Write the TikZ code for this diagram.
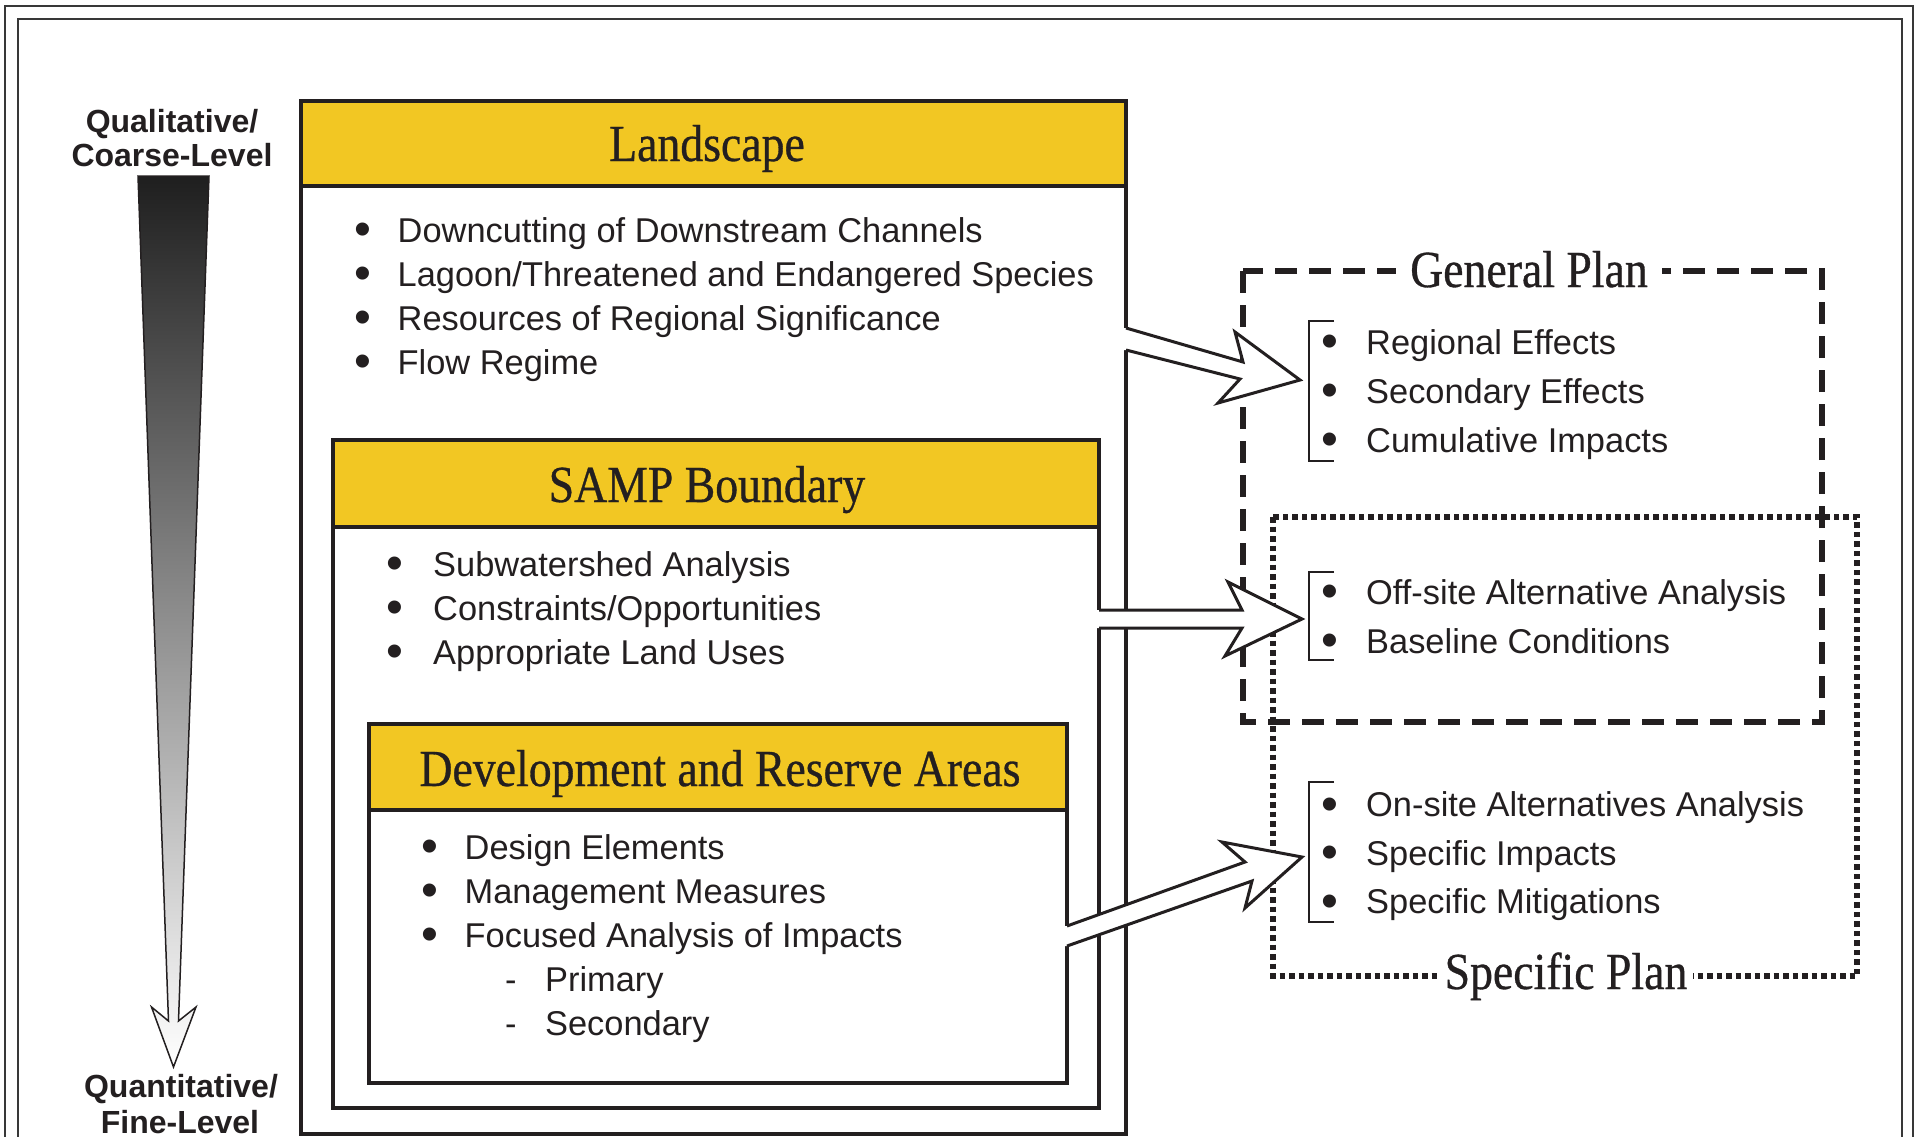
\documentclass[tikz,border=0pt]{standalone}
\usepackage{fontspec}
\usepackage{graphicx}
\setmainfont{Liberation Sans}
\newfontfamily\headfont[FakeStretch=0.88,FakeBold=0.6]{Liberation Serif}
\usetikzlibrary{calc}
\definecolor{gold}{RGB}{242,199,35}
\definecolor{ink}{RGB}{35,31,32}
\newcommand{\bul}{\raisebox{-0.11em}{\scalebox{1.4}{•}}}
\begin{document}
\begin{tikzpicture}[x=1pt,y=-1pt,
  frameline/.style={draw=black!78, line width=2.5pt},
  boxline/.style={draw=ink, line width=3.5pt},
  headtxt/.style={font=\headfont\fontsize{52}{52}\selectfont, text=ink, inner sep=0pt, anchor=base},
  item/.style={font=\fontsize{34.4}{40}\selectfont, text=ink, inner sep=0pt, anchor=base west},
  sidetxt/.style={font=\bfseries\fontsize{32}{34}\selectfont, text=ink, inner sep=0pt, anchor=base},
  fatline/.style={draw=ink, line width=3pt, line join=miter},
  brk/.style={draw=ink, line width=2pt},
  planlbl/.style={font=\headfont\fontsize{52}{52}\selectfont, text=ink, fill=white, inner ysep=2pt, anchor=base},
]
\useasboundingbox (0,0) rectangle (1917,1136);
\clip (0,0) rectangle (1917,1136);
\fill[white] (0,0) rectangle (1917,1136);

% page frame
\draw[frameline] (5,6) rectangle (1913,1160);
\draw[frameline, line width=2.2pt] (18,19) rectangle (1902,1160);

% gradient arrow and side labels
\path[draw=ink, line width=1.5pt, top color=black!88, bottom color=white]
  (138,176) -- (209,176) -- (178.5,1021) -- (196,1007) -- (173.5,1067)
  -- (151.5,1007) -- (168.5,1021) -- cycle;
\node[sidetxt] (q1) at (172,132) {Qualitative/};
\node[sidetxt] (q2) at (172,166.5) {Coarse-Level};
\node[sidetxt] (q3) at (181,1097.5) {Quantitative/};
\node[sidetxt] (q4) at (180,1133) {Fine-Level};

% Landscape box
\fill[gold] (301,101) rectangle (1126,186);
\draw[boxline] (301,101) rectangle (1126,1134);
\draw[boxline] (301,186) -- (1126,186);
\node[headtxt] (landhead) at (707,161) {Landscape};
\foreach \t [count=\i] in {Downcutting of Downstream Channels,
  Lagoon/Threatened and Endangered Species,
  Resources of Regional Significance, Flow Regime}
  \node[item] (ls\i) at (354,{198+44*\i}) {\makebox[43.5pt][l]{\bul}\t};

% SAMP box
\fill[gold] (333,440) rectangle (1099,527);
\draw[boxline] (333,440) rectangle (1099,1108);
\draw[boxline] (333,527) -- (1099,527);
\node[headtxt] (samphead) at (707,502) {SAMP Boundary};
\foreach \t [count=\i] in {Subwatershed Analysis, Constraints/Opportunities, Appropriate Land Uses}
  \node[item] (sb\i) at (386,{532+44*\i}) {\makebox[47pt][l]{\bul}\t};

% Development box
\fill[gold] (369,724) rectangle (1067,810);
\draw[boxline] (369,724) rectangle (1067,1083);
\draw[boxline] (369,810) -- (1067,810);
\node[headtxt] (devhead) at (720,786) {Development and Reserve Areas};
\foreach \t [count=\i] in {Design Elements, Management Measures, Focused Analysis of Impacts}
  \node[item] (dv\i) at (421,{815+44*\i}) {\makebox[43.5pt][l]{\bul}\t};
\node[item] (dvs1) at (505,991) {\makebox[40pt][l]{-}Primary};
\node[item] (dvs2) at (505,1035) {\makebox[40pt][l]{-}Secondary};

% General Plan (dashed) and Specific Plan (dotted)
\draw[ink, line width=5.5pt, dash pattern=on 22pt off 12pt] (1243,271) rectangle (1822,722);
\draw[ink, line width=5.5pt, dash pattern=on 5.5pt off 4pt] (1273,517) rectangle (1857,976);
\node[planlbl, inner xsep=14pt] (gp) at (1529,287) {General Plan};
\node[planlbl, inner xsep=6pt] (sp) at (1566,989) {Specific Plan};

% brackets
\draw[brk] (1334,321) -- (1309,321) -- (1309,461) -- (1334,461);
\draw[brk] (1334,572) -- (1309,572) -- (1309,660) -- (1334,660);
\draw[brk] (1334,782) -- (1309,782) -- (1309,922) -- (1334,922);

\foreach \t [count=\i] in {Regional Effects, Secondary Effects, Cumulative Impacts}
  \node[item] (ge\i) at (1321,{305+49*\i}) {\makebox[45pt][l]{\bul}\t};
\foreach \t [count=\i] in {Off-site Alternative Analysis, Baseline Conditions}
  \node[item] (oa\i) at (1321,{555+49*\i}) {\makebox[45pt][l]{\bul}\t};
\foreach \t [count=\i] in {On-site Alternatives Analysis, Specific Impacts, Specific Mitigations}
  \node[item] (sa\i) at (1321,{768+48.5*\i}) {\makebox[45pt][l]{\bul}\t};

% fat arrows
\coordinate (tip1) at (1300,380);
\coordinate (tip2) at (1302,619);
\coordinate (tip3) at (1302,857);
\fill[white] (1118,328) -- (1126,328) -- (1243,362) -- (1235,332) -- (tip1) -- (1218,403) -- (1240,379) -- (1126,350) -- (1118,350) -- cycle;
\draw[fatline] (1126,328) -- (1243,362) -- (1235,332) -- (tip1) -- (1218,403) -- (1240,379) -- (1126,350);
\fill[white] (1093,610) -- (1242,610) -- (1228,582) -- (tip2) -- (1225,656) -- (1242,628) -- (1093,628) -- cycle;
\draw[fatline] (1099,610) -- (1242,610) -- (1228,582) -- (tip2) -- (1225,656) -- (1242,628) -- (1099,628);
\fill[white] (1061,926) -- (1067,926) -- (1245,862) -- (1222,842) -- (tip3) -- (1245,908) -- (1252,881) -- (1067,946) -- (1061,946) -- cycle;
\draw[fatline] (1067,926) -- (1245,862) -- (1222,842) -- (tip3) -- (1245,908) -- (1252,881) -- (1067,946);
\end{tikzpicture}
\end{document}
